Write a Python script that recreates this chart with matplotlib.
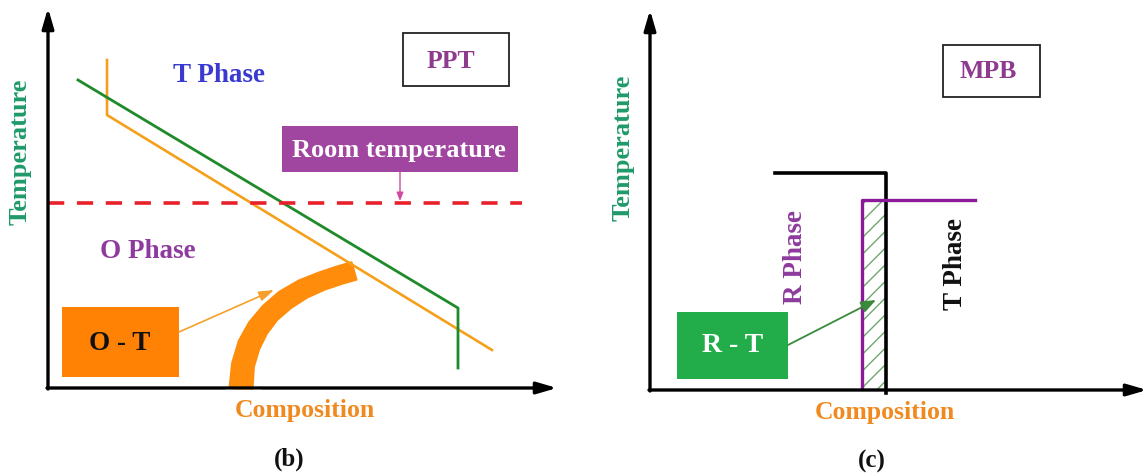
import numpy as np
import matplotlib.pyplot as plt
from matplotlib.patches import Rectangle, Polygon

# diagram geometry in image pixel units (x right, y down)
left_origin = (48, 388)
right_origin = (650, 390)

orange_line_x = [107, 107, 492]
orange_line_y = [60, 115, 350]
green_line_x = [78, 458, 458]
green_line_y = [80, 308, 368]
room_temp_y = 203
room_temp_x = [48, 522]
ot_curve_x = [241, 243, 249, 258, 270, 285, 303, 322, 340, 354]
ot_curve_y = [389, 365, 345, 328, 313, 300, 289, 281, 275, 271]
ot_curve_halfwidth = [11.5, 11, 11, 10.5, 10, 10, 9.5, 9, 9, 9]

black_boundary_x = [775, 886, 886]
black_boundary_y = [173, 173, 393]
purple_boundary_x = [862, 862, 975]
purple_boundary_y = [388, 200, 200]

serif = "Liberation Serif"
plt.rcParams["hatch.linewidth"] = 1.0
plt.rcParams["hatch.color"] = "#6fa86f"

fig = plt.figure(figsize=(11.47, 4.75), dpi=100)
ax = fig.add_axes([0, 0, 1, 1])
ax.set_xlim(0, 1147)
ax.set_ylim(475, 0)
ax.axis("off")


def axis_arrows(x0, y0, xend, ytop):
    ax.annotate("", xy=(xend, y0), xytext=(x0 - 1, y0),
                arrowprops=dict(arrowstyle="-|>,head_length=1.2,head_width=0.35",
                                color="black", lw=2.4, shrinkA=0, shrinkB=0))
    ax.annotate("", xy=(x0, ytop), xytext=(x0, y0 + 1),
                arrowprops=dict(arrowstyle="-|>,head_length=1.2,head_width=0.35",
                                color="black", lw=2.4, shrinkA=0, shrinkB=0))


def thick_band(xs, ys, hw):
    xs, ys, hw = np.array(xs, float), np.array(ys, float), np.array(hw, float)
    dx, dy = np.gradient(xs), np.gradient(ys)
    n = np.hypot(dx, dy)
    nx, ny = -dy / n, dx / n
    left = np.column_stack([xs + nx * hw, ys + ny * hw])
    right = np.column_stack([xs - nx * hw, ys - ny * hw])
    return np.vstack([left, right[::-1]])


# ---- panel (b) ----
axis_arrows(left_origin[0], left_origin[1], 557, 8)
ax.plot(orange_line_x, orange_line_y, color="#f5a01a", lw=1.9)
ax.plot(green_line_x, green_line_y, color="#1f8a2a", lw=2.0)
ax.plot(room_temp_x, [room_temp_y] * 2, color="#e8202a", lw=2.6,
        dashes=(4.5, 3.5))
ax.add_patch(Polygon(thick_band(ot_curve_x, ot_curve_y, ot_curve_halfwidth),
                     closed=True, facecolor="#ff8c0a", edgecolor="#ff8c0a",
                     lw=1.5, joinstyle="round"))
ax.add_patch(Rectangle((225, 389.5), 36, 10, color="white", zorder=3))

ax.add_patch(Rectangle((282, 126), 236, 46, facecolor="#a046a0",
                       edgecolor="none"))
ax.text(399, 150, "Room temperature", color="white", fontsize=19,
        fontweight="bold", family=serif, ha="center", va="center")
ax.annotate("", xy=(400, 201), xytext=(400, 172),
            arrowprops=dict(arrowstyle="-|>,head_length=0.5,head_width=0.2",
                            color="#d04aa0", lw=1.0, shrinkA=0, shrinkB=0))

ax.add_patch(Rectangle((403, 33), 106, 53, facecolor="white",
                       edgecolor="#222222", lw=1.3))
ax.text(451, 62, "PPT", color="#8e3a8e", fontsize=18.5, fontweight="bold",
        family=serif, ha="center", va="center")

ax.text(219, 75, "T Phase", color="#3a3ad0", fontsize=19.5, fontweight="bold",
        family=serif, ha="center", va="center")
ax.text(148, 251, "O Phase", color="#8e3a9e", fontsize=19.5, fontweight="bold",
        family=serif, ha="center", va="center")

ax.add_patch(Rectangle((62, 307), 117, 70, facecolor="#ff8204",
                       edgecolor="none"))
ax.text(120, 344, "O - T", color="#111111", fontsize=19.5, fontweight="bold",
        family=serif, ha="center", va="center")
ax.annotate("", xy=(274, 290), xytext=(179, 332),
            arrowprops=dict(arrowstyle="-|>,head_length=0.9,head_width=0.3",
                            color="#f5a02a", lw=1.2, shrinkA=0, shrinkB=0))

ax.text(20, 152, "Temperature", color="#1f9a6a", fontsize=19,
        fontweight="bold", family=serif, rotation=90, ha="center", va="center")
ax.text(305, 411, "Composition", color="#f08a20", fontsize=18.5,
        fontweight="bold", family=serif, ha="center", va="center")
ax.text(289, 459, "(b)", color="#111111", fontsize=18, fontweight="bold",
        family=serif, ha="center", va="center")

# ---- panel (c) ----
axis_arrows(right_origin[0], right_origin[1], 1147, 10)
ax.add_patch(Polygon([(862, 200), (886, 200), (886, 390), (862, 390)],
                     closed=True, facecolor="white", hatch="//", lw=0))
ax.plot(black_boundary_x, black_boundary_y, color="black", lw=2.6)
ax.plot(purple_boundary_x, purple_boundary_y, color="#8a1a9a", lw=2.4)

ax.add_patch(Rectangle((943, 45), 97, 52, facecolor="white",
                       edgecolor="#222222", lw=1.3))
ax.text(988, 72, "MPB", color="#8e3a8e", fontsize=18.5, fontweight="bold",
        family=serif, ha="center", va="center")

ax.text(795, 257, "R Phase", color="#8e3a9e", fontsize=19.5, fontweight="bold",
        family=serif, rotation=90, ha="center", va="center")
ax.text(955, 264, "T Phase", color="#111111", fontsize=19.5, fontweight="bold",
        family=serif, rotation=90, ha="center", va="center")

ax.add_patch(Rectangle((677, 312), 111, 67, facecolor="#22ad4a",
                       edgecolor="none"))
ax.text(733, 345, "R - T", color="white", fontsize=20, fontweight="bold",
        family=serif, ha="center", va="center")
ax.annotate("", xy=(876, 300), xytext=(788, 345),
            arrowprops=dict(arrowstyle="-|>,head_length=0.9,head_width=0.35",
                            color="#3a8a3a", lw=1.3, shrinkA=0, shrinkB=0))

ax.text(623, 148, "Temperature", color="#1f9a6a", fontsize=19,
        fontweight="bold", family=serif, rotation=90, ha="center", va="center")
ax.text(885, 412, "Composition", color="#f08a20", fontsize=18.5,
        fontweight="bold", family=serif, ha="center", va="center")
ax.text(872, 461, "(c)", color="#111111", fontsize=18, fontweight="bold",
        family=serif, ha="center", va="center")

fig.savefig("out.png", dpi=100)
